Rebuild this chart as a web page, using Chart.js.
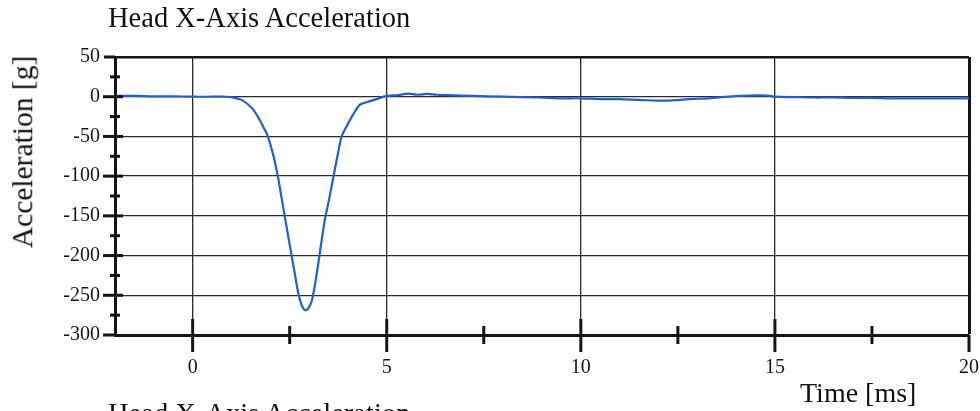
<!DOCTYPE html>
<html>
<head>
<meta charset="utf-8">
<script src="https://cdn.jsdelivr.net/npm/chart.js@4.4.1/dist/chart.umd.min.js"></script>
<style>
  html, body { margin:0; padding:0; background:#fff; overflow:hidden; }
  #wrap { position:relative; width:980px; height:411px; overflow:hidden; }
  #box { position:absolute; left:0; top:0; width:980px; height:411px; }
  .t { position:absolute; font-family:"Liberation Serif","Times New Roman",serif; color:#111; white-space:nowrap; line-height:1; }
</style>
</head>
<body>
<div id="wrap">
  <div id="box"><canvas id="c"></canvas></div>
  <div class="t" id="title" style="left:108px; top:4px; font-size:28.5px;">Head X-Axis Acceleration</div>
  <div class="t" id="ylab" style="left:23px; top:152px; font-size:29.5px; transform:translate(-50%,-50%) rotate(-90deg);">Acceleration [g]</div>
  <div class="t" id="xlab" style="left:800px; top:379px; font-size:28px;">Time [ms]</div>
  <div class="t" id="next" style="left:108px; top:400px; font-size:28.5px;">Head X-Axis Acceleration</div>
</div>
<script>
const timeMs = [-2, -1.5, -1, -0.5, 0, 0.5, 0.8, 1.0, 1.26, 1.52, 1.69, 1.82, 1.93, 2.08, 2.19, 2.28, 2.36, 2.46, 2.55, 2.64, 2.72, 2.8, 2.86, 2.91, 2.97, 3.03, 3.08, 3.16, 3.24, 3.32, 3.41, 3.52, 3.63, 3.75, 3.84, 3.97, 4.14, 4.31, 4.48, 4.74, 5.0, 5.3, 5.56, 5.8, 6.03, 6.3, 6.6, 7.2, 8.0, 8.9, 9.5, 10, 10.5, 11, 11.5, 12.2, 12.8, 13.3, 13.8, 14.3, 14.8, 15, 15.5, 16, 16.5, 17, 17.5, 18, 19, 20];
const accelG = [1, 1, 0.5, 0.5, 0, 0, 0, -0.5, -4, -14, -26, -38, -49, -74, -99, -124, -147, -175, -200, -225, -247, -261, -267, -269, -267, -262, -255, -234, -209, -182, -154, -128, -100, -70, -50, -37, -22, -10, -7, -3, 1, 2, 4, 2.5, 3.5, 2.5, 2, 1, 0, -1, -2, -2, -3, -3, -4, -5, -3, -2, 0, 1.5, 1.5, 0, -0.5, -1, -1, -1.5, -1.5, -2, -2, -2];
const xTickLabels = [0, 5, 10, 15, 20];
const yTickLabels = [50, 0, -50, -100, -150, -200, -250, -300];

const FONT = '"Liberation Serif","Times New Roman",serif';
const INK = '#151515';
const GRID = '#2a2a2a';

const crossTicks = {
  id: 'crossTicks',
  afterDraw(chart) {
    const ctx = chart.ctx, x = chart.scales.x, y = chart.scales.y, a = chart.chartArea;
    ctx.save();
    ctx.strokeStyle = INK;
    ctx.lineWidth = 3;
    x.ticks.forEach(t => {
      const v = t.value;
      if (v <= x.min || v >= x.max) return;
      const px = x.getPixelForValue(v);
      const major = Math.abs(v % 5) < 1e-6;
      const up = major ? 16 : 9, dn = major ? 17 : 9;
      ctx.beginPath(); ctx.moveTo(px, a.bottom - up); ctx.lineTo(px, a.bottom + dn); ctx.stroke();
    });
    ctx.beginPath(); ctx.moveTo(a.right, a.bottom); ctx.lineTo(a.right, a.bottom + 17); ctx.stroke();
    y.ticks.forEach(t => {
      const v = t.value;
      const py = y.getPixelForValue(v);
      const major = Math.abs(v % 50) < 1e-6;
      if (v === y.max) { ctx.beginPath(); ctx.moveTo(a.left - 11, py); ctx.lineTo(a.left, py); ctx.stroke(); return; }
      if (v === y.min) { ctx.beginPath(); ctx.moveTo(a.left - 12, py); ctx.lineTo(a.left, py); ctx.stroke(); return; }
      const l = major ? 12 : 5, r = major ? 8 : 5;
      ctx.beginPath(); ctx.moveTo(a.left - l, py); ctx.lineTo(a.left + r, py); ctx.stroke();
    });
    ctx.restore();
  }
};

new Chart(document.getElementById('c'), {
  type: 'line',
  data: {
    datasets: [{
      data: timeMs.map((t, i) => ({ x: t, y: accelG[i] })),
      borderColor: 'rgb(32,96,205)',
      borderWidth: 2.2,
      pointRadius: 0,
      tension: 0.35,
      fill: false
    }]
  },
  options: {
    responsive: true,
    maintainAspectRatio: false,
    animation: false,
    layout: { padding: { top: 57, right: 11, left: 0, bottom: 0 } },
    plugins: { legend: { display: false }, title: { display: false }, tooltip: { enabled: false } },
    scales: {
      x: {
        type: 'linear', min: -2, max: 20,
        afterFit: s => { s.height = 76; s.paddingRight = 0; s.paddingLeft = 0; },
        ticks: {
          stepSize: 2.5,
          autoSkip: false,
          maxRotation: 0,
          padding: 21,
          color: INK,
          font: { family: FONT, size: 20 },
          callback: v => xTickLabels.includes(v) ? String(v) : ''
        },
        grid: {
          drawTicks: false,
          color: c => {
            const v = c.tick && c.tick.value;
            if (v === 20) return INK;
            return (v !== undefined && Math.abs(v % 5) < 1e-6 && v > -2) ? GRID : 'rgba(0,0,0,0)';
          },
          lineWidth: c => (c.tick && c.tick.value === 20) ? 3 : 1.3
        },
        border: { display: true, color: INK, width: 3 }
      },
      y: {
        type: 'linear', min: -300, max: 50,
        afterFit: s => { s.width = 115; s.paddingTop = 0; s.paddingBottom = 0; },
        ticks: {
          stepSize: 25,
          autoSkip: false,
          padding: 15,
          color: INK,
          font: { family: FONT, size: 20 },
          callback: v => yTickLabels.includes(v) ? String(v) : ''
        },
        grid: {
          drawTicks: false,
          color: c => {
            const v = c.tick && c.tick.value;
            if (v === 50) return INK;
            return (v !== undefined && Math.abs(v % 50) < 1e-6) ? GRID : 'rgba(0,0,0,0)';
          },
          lineWidth: c => (c.tick && c.tick.value === 50) ? 2.6 : 1.3
        },
        border: { display: true, color: INK, width: 3 }
      }
    }
  },
  plugins: [crossTicks]
});
</script>
</body>
</html>
